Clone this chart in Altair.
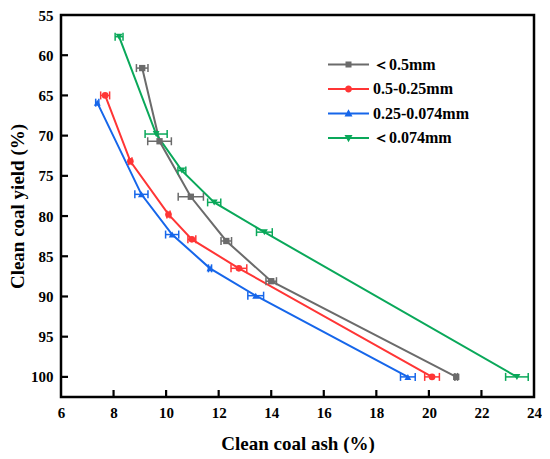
import altair as alt
import pandas as pd

series = ["＜0.5mm", "0.5-0.25mm", "0.25-0.074mm", "＜0.074mm"]
colors = ["#6b6b6b", "#ff3535", "#1666ea", "#0aa85a"]
shapes = ["square", "circle", "triangle-up", "triangle-down"]
sizes = [40, 44, 48, 48]

ash_a = [9.09, 9.75, 10.94, 12.29, 14.00, 21.04]
yld_a = [61.6, 70.7, 77.6, 83.1, 88.1, 100.0]
err_a = [0.22, 0.45, 0.48, 0.20, 0.20, 0.05]

ash_b = [7.68, 8.64, 10.09, 10.98, 12.77, 20.12]
yld_b = [65.0, 73.2, 79.8, 82.9, 86.5, 100.0]
err_b = [0.17, 0.06, 0.06, 0.15, 0.30, 0.28]

ash_c = [7.38, 9.06, 10.23, 11.67, 13.41, 19.20]
yld_c = [65.9, 77.3, 82.3, 86.5, 89.9, 100.0]
err_c = [0.06, 0.25, 0.25, 0.06, 0.30, 0.28]

ash_d = [8.21, 9.62, 10.60, 11.83, 13.74, 23.35]
yld_d = [57.7, 69.8, 74.35, 78.3, 82.0, 100.0]
err_d = [0.15, 0.42, 0.15, 0.25, 0.30, 0.43]

x_ticks = [8, 10, 12, 14, 16, 18, 20, 22]
y_ticks = [60, 65, 70, 75, 80, 85, 90, 95, 100]

legend_paths = [
    "M-1,-0.1H3.1V0.1H-1Z M0.75,-0.3H1.35V0.3H0.75Z",
    "M-1,-0.1H3.1V0.1H-1Z M0.7,0 A0.35,0.35 0 1,1 1.4,0 A0.35,0.35 0 1,1 0.7,0Z",
    "M-1,-0.1H3.1V0.1H-1Z M1.05,-0.42 L1.45,0.3 L0.65,0.3Z",
    "M-1,-0.1H3.1V0.1H-1Z M1.05,0.42 L0.65,-0.3 L1.45,-0.3Z",
]

rows = []
for s, ash, yl, er in zip(series, [ash_a, ash_b, ash_c, ash_d],
                          [yld_a, yld_b, yld_c, yld_d],
                          [err_a, err_b, err_c, err_d]):
    for a, y, e in zip(ash, yl, er):
        rows.append({"series": s, "ash": a, "yield": y,
                     "lo": a - e, "hi": a + e})
df = pd.DataFrame(rows)

caps = pd.concat([
    df[["series", "yield", "lo"]].rename(columns={"lo": "cx"}),
    df[["series", "yield", "hi"]].rename(columns={"hi": "cx"}),
])

FONT = "Liberation Serif"
W, H = 473, 382

xs = alt.Scale(domain=[6, 24], nice=False, zero=False)
ys = alt.Scale(domain=[55, 102.5], nice=False, zero=False, reverse=True)

x_axis = alt.Axis(title="Clean coal ash (%)", values=list(range(6, 25, 2)),
                  ticks=False, domain=False, grid=False, labelPadding=8,
                  labelFont=FONT, labelFontSize=15, labelFontWeight="bold",
                  labelColor="black", labelFlush=False,
                  titleFont=FONT, titleFontSize=19, titleFontWeight="bold",
                  titleColor="black", titlePadding=14)
y_axis = alt.Axis(title="Clean coal yield (%)", values=[55] + y_ticks,
                  ticks=False, domain=False, grid=False, labelPadding=8,
                  labelFont=FONT, labelFontSize=15, labelFontWeight="bold",
                  labelColor="black", labelFlush=False,
                  titleFont=FONT, titleFontSize=19, titleFontWeight="bold",
                  titleColor="black", titlePadding=3)

base = alt.Chart(df)

layers = []
layers.append(base.mark_point(opacity=0).encode(
    x=alt.X("ash:Q", scale=xs, axis=x_axis),
    y=alt.Y("yield:Q", scale=ys, axis=y_axis),
))

for s, col in zip(series, colors):
    sub = base.transform_filter(alt.datum.series == s)
    layers.append(sub.mark_line(strokeWidth=2, color=col).encode(
        x=alt.X("ash:Q", scale=xs), y=alt.Y("yield:Q", scale=ys), order="yield:Q"))

for s, col in zip(series, colors):
    sub = base.transform_filter(alt.datum.series == s)
    layers.append(sub.mark_rule(strokeWidth=1.5, color=col).encode(
        x=alt.X("lo:Q", scale=xs), x2="hi:Q", y=alt.Y("yield:Q", scale=ys)))
    layers.append(alt.Chart(caps).transform_filter(alt.datum.series == s).mark_tick(
        orient="vertical", size=8, thickness=1.5, opacity=1, color=col).encode(
        x=alt.X("cx:Q", scale=xs), y=alt.Y("yield:Q", scale=ys)))

for s, col, shp, sz in zip(series, colors, shapes, sizes):
    sub = base.transform_filter(alt.datum.series == s)
    layers.append(sub.mark_point(shape=shp, filled=True, size=sz, opacity=1,
                                 strokeWidth=0, color=col).encode(
        x=alt.X("ash:Q", scale=xs), y=alt.Y("yield:Q", scale=ys)))

leg = dict(title=None, orient="none", legendX=267, legendY=39.5, padding=0,
           symbolSize=400, symbolStrokeWidth=0, symbolOpacity=1,
           labelFont=FONT, labelFontSize=16, labelFontWeight="bold",
           labelColor="black", labelOffset=25, rowPadding=6.5, direction="vertical")

layers.append(base.transform_filter("false").mark_point(
    filled=True, size=400, opacity=1, strokeWidth=0).encode(
    x=alt.X("ash:Q", scale=xs),
    y=alt.Y("yield:Q", scale=ys),
    color=alt.Color("series:N", scale=alt.Scale(domain=series, range=colors),
                    legend=alt.Legend(**leg)),
    shape=alt.Shape("series:N", scale=alt.Scale(domain=series, range=legend_paths),
                    legend=alt.Legend(**leg)),
))

layers.append(alt.Chart(pd.DataFrame({"t": x_ticks})).mark_rule(
    color="black", strokeWidth=2.2).encode(
    x=alt.X("t:Q", scale=xs), y=alt.value(H), y2=alt.value(H - 7)))
layers.append(alt.Chart(pd.DataFrame({"t": y_ticks})).mark_rule(
    color="black", strokeWidth=2.2).encode(
    y=alt.Y("t:Q", scale=ys), x=alt.value(0), x2=alt.value(7)))

chart = alt.layer(*layers).properties(
    width=W, height=H,
    padding={"left": 0, "top": 0, "right": 0, "bottom": 0},
).configure_view(
    stroke="black", strokeWidth=2.5
)

chart.save("out.html", embed_options={"renderer": "svg", "actions": False})
